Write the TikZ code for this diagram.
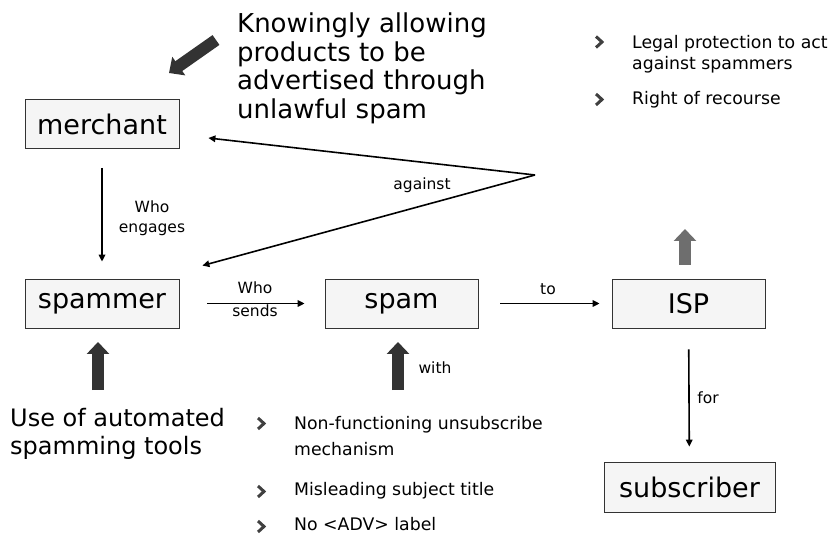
\documentclass[tikz,border=0pt]{standalone}
\usepackage{fontspec}
\setmainfont{DejaVu Sans}
\usetikzlibrary{arrows.meta}

\tikzset{
  box/.style={draw=black!80, fill=black!4, line width=0.8pt, minimum width=154pt,
    minimum height=49pt, inner sep=0pt, font=\fontsize{27}{32}\selectfont},
  conn/.style={black, line width=1.6pt, -{Triangle[length=7pt,width=6.5pt]}},
  lbl/.style={inner sep=0pt, align=center, font=\fontsize{15.5}{20}\selectfont},
  blockarrow/.style={line width=12pt, -{Triangle[length=12pt,width=22pt]}},
  bigtext/.style={inner sep=0pt, anchor=base west, align=left},
  bul/.style={inner sep=0pt, anchor=base west, align=left},
  chevron/.style={black!75, line width=3pt, miter limit=4},
}

\begin{document}
\begin{tikzpicture}[x=1pt,y=-1pt]
\useasboundingbox (0,0) rectangle (833,537);

\node[box] (merchant) at (102,124) {merchant};
\node[box] (spammer) at (102,303.5) {spammer};
\node[box, minimum width=153pt] (spam) at (401.5,303.5) {spam};
\node[box, minimum width=153pt] (isp) at (688.5,303.5) {ISP};
\node[box, minimum width=171pt, minimum height=50pt] (subscriber) at (689.5,487) {subscriber};

\draw[conn, shorten <=19pt, shorten >=17pt] (merchant) -- (spammer);
\draw[conn, shorten <=28pt, shorten >=20pt] (spammer) -- (spam);
\draw[conn, shorten <=22pt, shorten >=12pt] (spam) -- (isp);
\draw[conn, shorten <=21pt, shorten >=15pt] (isp) -- (subscriber);

\coordinate (apex) at (535,175);
\draw[conn] (apex) -- ([shift={(29,14)}]merchant.east);
\draw[conn] (apex) -- ([shift={(23,-13)}]spammer.north east);

\node[lbl] (engages) at (152,218) {Who\\engages};
\node[lbl] (who) at (255,288) {Who};
\node[lbl] (sends) at (255,310.5) {sends};
\node[lbl] (to) at (548,289) {to};
\node[lbl] (for) at (708,398) {for};
\node[lbl] (with) at (435,368) {with};
\node[lbl] (against) at (422,185) {against};

\draw[blockarrow, black!80] (98,390) -- (98,342);
\draw[blockarrow, black!80] (398,390) -- (398,342);
\draw[blockarrow, black!57] (685,265) -- (685,229);
\draw[blockarrow, black!80] (216,40) -- (169,73);

\node[bigtext, font=\fontsize{26}{28.5}\selectfont] (knowingly) at (237,118.5)
  {Knowingly allowing\\products to be\\advertised through\\unlawful spam};
\node[bigtext, font=\fontsize{24}{28}\selectfont] (tools) at (10,454)
  {Use of automated\\spamming tools};

\foreach \p in {(599,42),(599,99.5),(261,423.5),(261,491.5),(261,526.5)}
  \draw[chevron] \p ++(-3,-5.5) -- ++(6,5.5) -- ++(-6,5.5);

\node[bul, font=\fontsize{17.3}{20.5}\selectfont] (legal) at (632,69.5)
  {Legal protection to act\\against spammers};
\node[bul, font=\fontsize{17.3}{20}\selectfont] (recourse) at (632,105) {Right of recourse};
\node[bul, font=\fontsize{17.3}{26}\selectfont] (unsub) at (294,455)
  {Non-functioning unsubscribe\\mechanism};
\node[bul, font=\fontsize{17.3}{20}\selectfont] (title) at (294,495) {Misleading subject title};
\node[bul, font=\fontsize{17.3}{20}\selectfont] (adv) at (294,530) {No <ADV> label};
\end{tikzpicture}
\end{document}
